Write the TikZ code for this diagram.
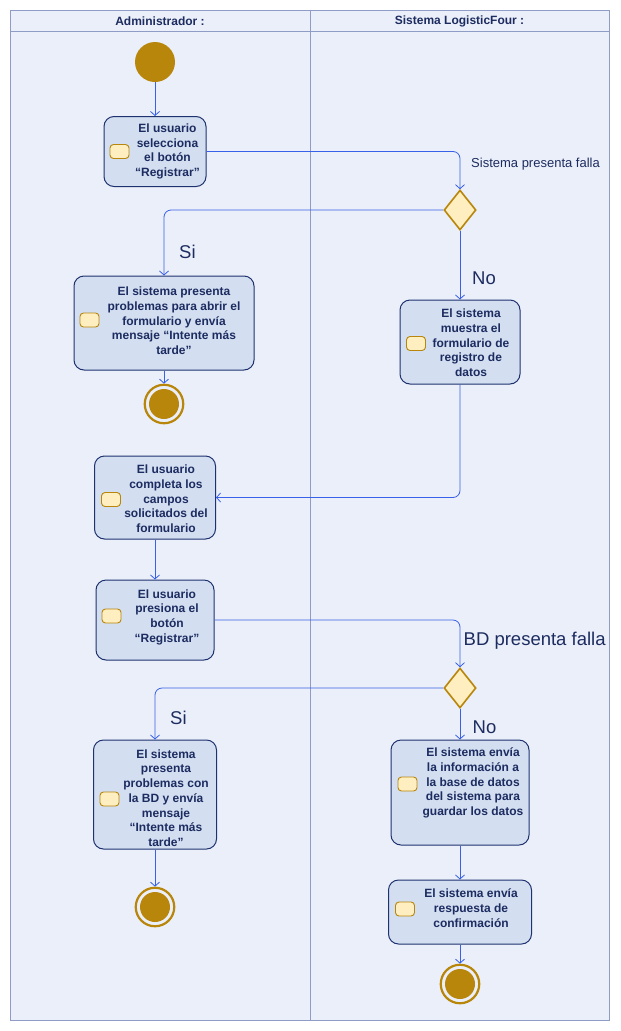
\documentclass[tikz,border=0pt]{standalone}
\usepackage{fontspec}
\setmainfont{Liberation Sans}
\usetikzlibrary{shapes.geometric,arrows.meta}

\definecolor{laneBg}{HTML}{EBEFF9}
\definecolor{laneLine}{HTML}{8E9CC6}
\definecolor{boxFill}{HTML}{D3DEF1}
\definecolor{boxLine}{HTML}{1E3270}
\definecolor{flowC}{HTML}{3860E8}
\definecolor{goldC}{HTML}{B8860B}
\definecolor{paleGold}{HTML}{FFEFC0}
\definecolor{inkC}{HTML}{1C2C60}

\tikzset{
  lane/.style={draw=laneLine, line width=0.9pt},
  hdr/.style={font=\bfseries\fontsize{12}{14}\selectfont, text=inkC, inner sep=0},
  act/.style={draw=boxLine, fill=boxFill, line width=1pt, rounded corners=10pt, inner sep=0},
  acttext/.style={font=\bfseries\fontsize{12}{14.7}\selectfont, text=inkC, align=center, inner sep=0},
  icon/.style={draw=goldC, fill=paleGold, rounded corners=3.5pt, minimum width=19pt,
    minimum height=14pt, inner sep=0, line width=0.9pt},
  decision/.style={diamond, draw=goldC, fill=paleGold, line width=1.6pt,
    minimum width=32pt, minimum height=40pt, inner sep=0},
  startnode/.style={circle, fill=goldC, minimum size=40pt, inner sep=0},
  endring/.style={circle, draw=goldC, fill=laneBg, line width=2.2pt, minimum size=38.5pt, inner sep=0},
  enddot/.style={circle, fill=goldC, minimum size=30pt, inner sep=0},
  flow/.style={draw=flowC, line width=0.8pt, rounded corners=7pt,
    -{Straight Barb[length=4pt,width=9pt,line width=0.8pt]}},
  small/.style={font=\fontsize{13}{15}\selectfont, text=inkC, inner sep=0},
  big/.style={font=\fontsize{18.5}{20}\selectfont, text=inkC, inner sep=0},
}

\begin{document}
\begin{tikzpicture}[x=1pt,y=-1pt]
  \useasboundingbox (0,0) rectangle (621,1031);
  \fill[white] (0,0) rectangle (621,1031);

  % swimlanes
  \filldraw[lane, fill=laneBg] (10,10) rectangle (609,1020);
  \draw[lane] (10,31.5) -- (609,31.5);
  \draw[lane] (310,10) -- (310,1020);
  \node[hdr] (h1) at (160,21) {Administrador :};
  \node[hdr] (h2) at (459.5,21) {Sistema LogisticFour :};

  % start
  \node[startnode] (s0) at (155,62) {};

  % action 1
  \node[act, minimum width=102pt, minimum height=70pt] (a1) at (155,151.5) {};
  \node[icon] (a1i) at (119.5,151.5) {};
  \node[acttext] (a1t) at (167.5,151.5) {El usuario\\selecciona\\el botón\\“Registrar”};

  % decision 1
  \node[decision] (d1) at (460,210) {};

  % action 2
  \node[act, minimum width=180pt, minimum height=94pt] (a2) at (164,323) {};
  \node[icon] (a2i) at (89.5,320) {};
  \node[acttext] (a2t) at (174,321) {El sistema presenta\\problemas para abrir el\\formulario y envía\\mensaje “Intente más\\tarde”};

  % end 1
  \node[endring] (e1) at (164,404) {};
  \node[enddot] (e1c) at (e1) {};

  % action 3
  \node[act, minimum width=120pt, minimum height=84pt] (a3) at (460,342) {};
  \node[icon] (a3i) at (416,343.5) {};
  \node[acttext] (a3t) at (471,343) {El sistema\\muestra el\\formulario de\\registro de\\datos};

  % action 4
  \node[act, minimum width=121pt, minimum height=83pt] (a4) at (155,497.5) {};
  \node[icon] (a4i) at (111,499.5) {};
  \node[acttext] (a4t) at (166,499) {El usuario\\completa los\\campos\\solicitados del\\formulario};

  % action 5
  \node[act, minimum width=118pt, minimum height=80pt] (a5) at (155,620) {};
  \node[icon] (a5i) at (111.5,616) {};
  \node[acttext] (a5t) at (167,617) {El usuario\\presiona el\\botón\\“Registrar”};

  % decision 2
  \node[decision] (d2) at (460,688) {};

  % action 6
  \node[act, minimum width=123pt, minimum height=109pt] (a6) at (155,794.5) {};
  \node[icon] (a6i) at (109.5,799) {};
  \node[acttext] (a6t) at (166,798) {El sistema\\presenta\\problemas con\\la BD y envía\\mensaje\\“Intente más\\tarde”};

  % end 2
  \node[endring] (e2) at (155,907) {};
  \node[enddot] (e2c) at (e2) {};

  % action 7
  \node[act, minimum width=138pt, minimum height=105pt] (a7) at (460,792.5) {};
  \node[icon] (a7i) at (407.5,784) {};
  \node[acttext] (a7t) at (473,783) {El sistema envía\\la información a\\la base de datos\\del sistema para\\guardar los datos};

  % action 8
  \node[act, minimum width=143pt, minimum height=64pt] (a8) at (460,912) {};
  \node[icon] (a8i) at (405,909) {};
  \node[acttext] (a8t) at (471,908) {El sistema envía\\respuesta de\\confirmación};

  % end 3
  \node[endring] (e3) at (460,984) {};
  \node[enddot] (e3c) at (e3) {};

  % connectors
  \draw[flow] (s0.south) -- (a1.north);
  \draw[flow] (a1.east) -| (d1.north);
  \draw[flow] (d1.west) -| (a2.north);
  \draw[flow] (a2.south) -- (e1.north);
  \draw[flow] (d1.south) -- (a3.north);
  \draw[flow] (a3.south) |- (a4.east);
  \draw[flow] (a4.south) -- (a5.north);
  \draw[flow] (a5.east) -| (d2.north);
  \draw[flow] (d2.west) -| (a6.north);
  \draw[flow] (a6.south) -- (e2.north);
  \draw[flow] (d2.south) -- (a7.north);
  \draw[flow] (a7.south) -- (a8.north);
  \draw[flow] (a8.south) -- (e3.north);

  % guard labels
  \node[small, anchor=west] (g1) at (471,164.5) {Sistema presenta falla};
  \node[big, anchor=west] (g2) at (179,252) {Si};
  \node[big, anchor=west] (g3) at (472,278.5) {No};
  \node[big, anchor=west] (g4) at (463.5,641) {BD presenta falla};
  \node[big, anchor=west] (g5) at (170,717.5) {Si};
  \node[big, anchor=west] (g6) at (472.5,727) {No};
\end{tikzpicture}
\end{document}
